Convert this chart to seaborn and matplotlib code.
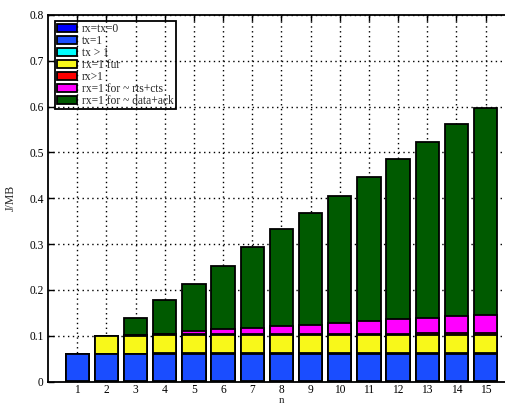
import numpy as np
import pandas as pd
import seaborn as sns
import matplotlib
matplotlib.use("Agg")
import matplotlib.pyplot as plt
from matplotlib.patches import Patch

# Energy per megabyte, broken down by state, for n = 1..15
n = list(range(1, 16))
rx_tx_0 = [0.001] * 15
tx_1 = [0.058] * 3 + [0.060] * 12
tx_gt1 = [0.0] * 3 + [0.002] * 12
rx_1_fur = [0.0, 0.041, 0.041] + [0.038] * 12
rx_gt1 = [0.0, 0.0, 0.002, 0.003] + [0.003] * 8 + [0.005] * 3
rts_cts = [0.0, 0.0, 0.0, 0.0, 0.006, 0.011, 0.013, 0.017, 0.020, 0.024,
           0.0275, 0.032, 0.033, 0.036, 0.040]
data_ack = [0.0, 0.0, 0.036, 0.074, 0.102, 0.138, 0.176, 0.212, 0.244, 0.278,
            0.3155, 0.350, 0.383, 0.419, 0.452]

labels = ["rx=tx=0", "tx=1", "tx > 1", "rx=1 fur", "rx>1",
          "rx=1 for ~ rts+cts", "rx=1 for ~ data+ack"]
series = [rx_tx_0, tx_1, tx_gt1, rx_1_fur, rx_gt1, rts_cts, data_ack]
colors = ["#0000ff", "#1a4dff", "#00ffff", "#f8f81a", "#ff0000",
          "#ff00ff", "#005a00"]

yticks = [0, 0.1, 0.2, 0.3, 0.4, 0.5, 0.6, 0.7, 0.8]
ytick_labels = ["0", "0.1", "0.2", "0.3", "0.4", "0.5", "0.6", "0.7", "0.8"]

sns.set_style("ticks")
plt.rcParams["font.family"] = ["Liberation Serif", "DejaVu Serif"]

fig = plt.figure(figsize=(5.06, 4.09), dpi=100)
ax = fig.add_axes([48 / 506, 27.5 / 409, 466.7 / 506, 366.5 / 409])

# stacked bars: draw cumulative totals from the top layer down
cum = np.cumsum(np.array(series), axis=0)
for i in range(len(series) - 1, -1, -1):
    df = pd.DataFrame({"n": n, "value": cum[i]})
    sns.barplot(data=df, x="n", y="value", native_scale=True, ax=ax,
                color=colors[i], saturation=1, width=0.8, errorbar=None,
                edgecolor="black", linewidth=1.3, zorder=2)

ax.set_xlim(0, 16)
ax.set_ylim(0, 0.8)
ax.set_xticks(n)
ax.set_xticklabels([str(v) for v in n])
ax.set_yticks(yticks)
ax.set_yticklabels(ytick_labels)
ax.grid(True, linestyle=(0, (1, 2.5)), color="black", linewidth=1.0, zorder=0)
ax.set_axisbelow(True)
ax.tick_params(direction="in", top=True, right=True, length=4, width=1,
               labelsize=8.3, colors="black")
ax.tick_params(axis="x", pad=1.5)
ax.tick_params(axis="y", pad=3)
for s in ax.spines.values():
    s.set_visible(True)
    s.set_linewidth(1.3)
    s.set_color("black")
ax.set_xlabel("n", fontsize=7.8)
ax.xaxis.set_label_coords(0.5, -0.04)
ax.set_ylabel("J/MB", fontsize=8.5, labelpad=9)

handles = [Patch(facecolor=c, edgecolor="black", linewidth=1.3) for c in colors]
leg = ax.legend(handles, labels, loc="upper left", bbox_to_anchor=(0.015, 0.983),
                borderaxespad=0, fontsize=8.3, frameon=True, fancybox=False,
                edgecolor="black", handlelength=1.8,
                handleheight=0.8, labelspacing=0.0, handletextpad=0.4,
                borderpad=0.15)
frame = leg.get_frame()
frame.set_facecolor("none")
frame.set_alpha(None)
frame.set_edgecolor("black")
frame.set_linewidth(1.3)

fig.savefig("out.png", dpi=100)
